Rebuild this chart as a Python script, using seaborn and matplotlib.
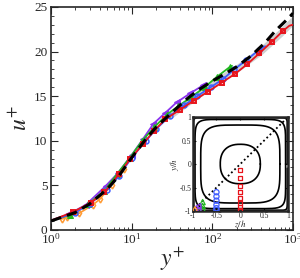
import numpy as np
import pandas as pd
import seaborn as sns
import matplotlib
matplotlib.use("Agg")
import matplotlib.pyplot as plt
from matplotlib.ticker import LogLocator, NullFormatter, MultipleLocator

# Perfiles de velocidad u+ frente a y+
ref_y = [1, 2, 3, 5, 7, 10, 15, 20, 30, 50, 70, 100, 150, 200, 300, 450, 600, 800, 1000]
ref_u = [1.0, 1.95, 2.9, 4.6, 6.1, 8.1, 10.2, 11.5, 13.0, 14.8, 15.8, 16.7, 17.6, 18.3, 19.5, 21.0, 22.3, 23.4, 24.3]

gris_y = [30, 60, 100, 200, 400, 700, 1000]
gris_u = [12.8, 14.8, 16.3, 18.0, 20.0, 22.0, 23.4]

rojo_y = [1, 1.87, 3.1, 4.6, 7.0, 9.5, 13.7, 18.9, 26, 40, 59, 88, 130, 191, 272, 381, 545, 745, 900, 990]
rojo_u = [1.05, 2.0, 3.05, 4.2, 6.3, 7.9, 9.6, 11.1, 12.4, 13.5, 14.5, 15.5, 16.5, 17.5, 18.6, 19.8, 21.1, 22.3, 22.9, 23.0]

azul_y = [1, 2, 3, 5, 7, 10, 15, 20, 30, 45, 65, 95, 135, 187, 260, 381, 450]
azul_u = [1.0, 1.95, 2.9, 4.5, 6.1, 8.1, 10.0, 11.3, 12.8, 14.0, 15.0, 16.0, 16.9, 18.0, 19.0, 20.2, 20.6]

verde_y = [1, 1.7, 2.9, 4.6, 6.5, 9.5, 13.5, 19, 27, 38, 55, 80, 115, 166, 175]
verde_u = [1.0, 1.7, 2.9, 4.4, 6.2, 8.1, 10.0, 11.5, 12.9, 13.9, 14.9, 16.0, 17.2, 18.3, 18.4]

morado_y = [1, 1.64, 2.7, 4.8, 6.8, 10, 13.7, 18.6, 25.9, 36, 52.8, 76, 85]
morado_u = [1.05, 1.75, 2.8, 4.96, 6.4, 8.4, 10.15, 11.9, 13.1, 14.3, 15.3, 16.2, 16.4]

naranja_y = [1.36, 1.6, 2.24, 3.3, 4.05, 5.65, 7.0, 8.0]
naranja_u = [1.23, 1.45, 1.87, 2.8, 3.47, 5.04, 6.16, 6.8]

# Inserto: posiciones de las sondas en la sección del conducto
rojo_z = [0, 0, 0, 0, 0, 0, 0, 0]
rojo_yh = [-0.12, -0.3, -0.46, -0.6, -0.72, -0.83, -0.91, -0.97]
azul_z = [-0.5, -0.5, -0.5, -0.5, -0.5, -0.5]
azul_yh = [-0.6, -0.69, -0.78, -0.87, -0.94, -0.98]
verde_z = [-0.79, -0.79, -0.79]
verde_yh = [-0.81, -0.89, -0.96]
morado_z = [-0.88, -0.88]
morado_yh = [-0.9, -0.97]
naranja_z = [-0.95]
naranja_yh = [-0.98]

# Contornos (radio, exponente de superelipse)
contorno_r = [0.42, 0.83, 0.95, 0.985]
contorno_p = [2.4, 4.5, 9.0, 30.0]

ROJO = "#e8141c"
AZUL = "#3d5cff"
VERDE = "#22b822"
MORADO = "#8a33ee"
NARANJA = "#ff9a33"

sns.set_style("ticks")
plt.rcParams["font.family"] = ["Liberation Serif", "DejaVu Serif"]
plt.rcParams["mathtext.fontset"] = "stix"
plt.rcParams["xtick.direction"] = "in"
plt.rcParams["ytick.direction"] = "in"

fig = plt.figure(figsize=(3.0, 2.78), dpi=100)
ax = fig.add_axes([0.17, 0.173, 0.807, 0.802])

sns.lineplot(x=gris_y, y=gris_u, ax=ax, color="#d0d0d0", lw=5, sort=False, estimator=None, zorder=1)
sns.lineplot(x=naranja_y, y=naranja_u, ax=ax, color=NARANJA, lw=1.2, marker="d", ms=3.5,
             mfc="none", mec=NARANJA, mew=1.1, sort=False, estimator=None, zorder=2)
sns.lineplot(x=morado_y, y=morado_u, ax=ax, color=MORADO, lw=1.3, marker="<", ms=4.5,
             mec=MORADO, mfc=MORADO, markevery=list(range(1, len(morado_y) - 1)),
             sort=False, estimator=None, zorder=3)
sns.lineplot(x=verde_y, y=verde_u, ax=ax, color=VERDE, lw=1.3, marker="^", ms=4.5,
             mec=VERDE, mfc=VERDE, markevery=list(range(1, len(verde_y) - 1)),
             sort=False, estimator=None, zorder=3)
sns.lineplot(x=azul_y, y=azul_u, ax=ax, color=AZUL, lw=1.3, marker="o", ms=3.5,
             mfc="none", mec=AZUL, mew=1.1, markevery=list(range(1, len(azul_y) - 1)),
             sort=False, estimator=None, zorder=3)
sns.lineplot(x=rojo_y, y=rojo_u, ax=ax, color=ROJO, lw=1.3, marker="s", ms=3.3,
             mfc="none", mec=ROJO, mew=1.4, markevery=list(range(1, len(rojo_y) - 2)),
             sort=False, estimator=None, zorder=4)
sns.lineplot(x=ref_y, y=ref_u, ax=ax, color="black", lw=2.2, sort=False, estimator=None, zorder=5)
ax.lines[-1].set_dashes([3.5, 2])

ax.set_xscale("log")
ax.set_xlim(1, 1000)
ax.set_ylim(0, 25)
ax.yaxis.set_major_locator(MultipleLocator(5))
ax.yaxis.set_minor_locator(MultipleLocator(1))
ax.xaxis.set_minor_locator(LogLocator(base=10, subs=np.arange(2, 10)))
ax.xaxis.set_minor_formatter(NullFormatter())
ax.tick_params(which="both", top=True, right=True, labelsize=9.5)
ax.tick_params(axis="x", pad=1.5)
ax.tick_params(axis="y", pad=2.5)
ax.tick_params(which="major", length=5, width=0.8)
ax.tick_params(which="minor", length=2.5, width=0.6)
for s in ax.spines.values():
    s.set_linewidth(1.2)
ax.set_xlabel(r"$y^{+}$", fontsize=17, labelpad=-1)
ax.set_ylabel(r"$u^{+}$", fontsize=17, labelpad=2)

# Inserto
axi = fig.add_axes([0.642, 0.241, 0.318, 0.338])
t = np.linspace(0, 2 * np.pi, 400)
for r, p in zip(contorno_r, contorno_p):
    c, s = np.cos(t), np.sin(t)
    zc = r * np.sign(c) * np.abs(c) ** (2 / p)
    yc = r * np.sign(s) * np.abs(s) ** (2 / p)
    axi.plot(zc, yc, color="black", lw=1.2)
axi.plot([-1, 1], [-1, 1], color="black", lw=1.3, ls=(0, (1, 1.5)))
sns.scatterplot(x=rojo_z, y=rojo_yh, ax=axi, marker="s", s=9, facecolor="none", edgecolor=ROJO, linewidth=0.9, zorder=4)
sns.scatterplot(x=azul_z, y=azul_yh, ax=axi, marker="o", s=14, facecolor="none", edgecolor=AZUL, linewidth=0.9, zorder=4)
sns.scatterplot(x=verde_z, y=verde_yh, ax=axi, marker="^", s=14, facecolor="none", edgecolor=VERDE, linewidth=0.9, zorder=4)
sns.scatterplot(x=morado_z, y=morado_yh, ax=axi, marker="<", s=14, facecolor="none", edgecolor=MORADO, linewidth=0.9, zorder=4)
sns.scatterplot(x=naranja_z, y=naranja_yh, ax=axi, marker="d", s=12, facecolor="none", edgecolor=NARANJA, linewidth=0.9, zorder=4)
axi.set_xlim(-1, 1)
axi.set_ylim(-1, 1)
axi.set_xticks([-1, -0.5, 0, 0.5, 1])
axi.set_yticks([-1, -0.5, 0, 0.5, 1])
axi.set_xticklabels(["-1", "-0.5", "0", "0.5", "1"])
axi.set_yticklabels(["-1", "-0.5", "0", "0.5", "1"])
axi.tick_params(labelsize=5.5, length=2, pad=1, top=True, right=True)
for s in axi.spines.values():
    s.set_linewidth(1.8)
axi.set_xlabel(r"$z/h$", fontsize=6.5, labelpad=-1)
axi.set_ylabel(r"$y/h$", fontsize=6.5, labelpad=-1)

fig.savefig("out.png", dpi=100)
